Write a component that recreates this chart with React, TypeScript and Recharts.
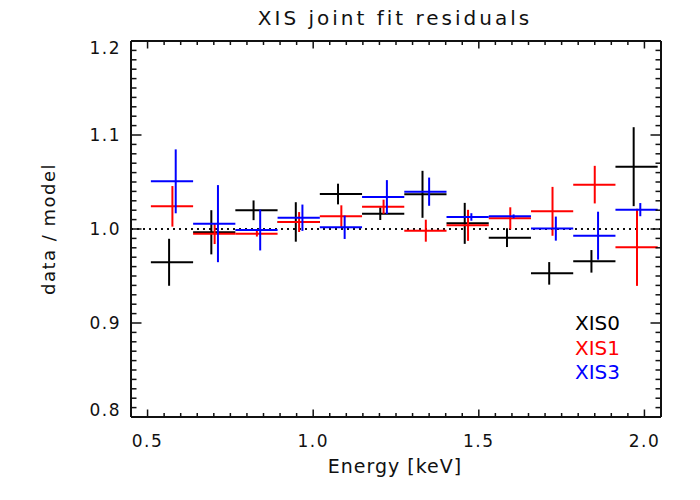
import React from 'react'
import {
  ScatterChart,
  Scatter,
  XAxis,
  YAxis,
  ErrorBar,
  ReferenceLine,
} from 'recharts'

// energy bins (keV), shared by the three detectors
const binLo = [0.51, 0.6375, 0.765, 0.8925, 1.02, 1.1475, 1.275, 1.4025, 1.53, 1.6575, 1.785, 1.9125]
const binHi = [0.6375, 0.765, 0.8925, 1.02, 1.1475, 1.275, 1.4025, 1.53, 1.6575, 1.785, 1.9125, 2.04]

const xis0E = [0.565, 0.6925, 0.82, 0.9475, 1.075, 1.2025, 1.33, 1.4575, 1.585, 1.7125, 1.84, 1.9675]
const xis0Ratio = [0.9646, 0.9965, 1.0199, 1.0075, 1.0372, 1.0163, 1.0369, 1.006, 0.9908, 0.9528, 0.9656, 1.0663]
const xis0Err = [0.025, 0.0235, 0.0105, 0.021, 0.011, 0.0067, 0.025, 0.0218, 0.01, 0.012, 0.012, 0.042]

const xis1E = [0.575, 0.7025, 0.83, 0.9575, 1.085, 1.2125, 1.34, 1.4675, 1.595, 1.7225, 1.85, 1.9775]
const xis1Ratio = [1.0241, 0.995, 0.995, 1.0074, 1.0135, 1.0237, 0.9982, 1.0039, 1.0114, 1.0188, 1.0472, 0.9805]
const xis1Err = [0.0216, 0.011, 0.003, 0.0106, 0.0117, 0.0075, 0.0117, 0.0165, 0.0117, 0.026, 0.02, 0.041]

const xis3E = [0.585, 0.7125, 0.84, 0.9675, 1.095, 1.2225, 1.35, 1.4775, 1.605, 1.7325, 1.86, 1.9875]
const xis3Ratio = [1.0507, 1.0057, 0.9989, 1.012, 1.0018, 1.034, 1.0397, 1.0128, 1.0135, 1.0004, 0.9929, 1.0206]
const xis3Err = [0.034, 0.041, 0.0217, 0.014, 0.0124, 0.018, 0.015, 0.004, 0.002, 0.0128, 0.0255, 0.007]

const xMajor = [0.5, 1.0, 1.5, 2.0]
const yMajor = [0.8, 0.9, 1.0, 1.1, 1.2]
const xLabels = ['0.5', '1.0', '1.5', '2.0']
const yLabels = ['0.8', '0.9', '1.0', '1.1', '1.2']

const xTicks: number[] = []
for (let i = 0; i <= 32; i++) xTicks.push(+(0.45 + i * 0.05).toFixed(3))
const yTicks: number[] = []
for (let i = 0; i <= 40; i++) yTicks.push(+(0.8 + i * 0.01).toFixed(3))

const FONT = '"DejaVu Sans", sans-serif'
const INK = '#111'

function buildSeries(energy: number[], ratio: number[], err: number[]) {
  return energy.map((x, i) => ({
    x,
    y: ratio[i],
    xerr: [x - binLo[i], binHi[i] - x],
    yerr: err[i],
  }))
}

const series = [
  { name: 'XIS0', color: '#000000', data: buildSeries(xis0E, xis0Ratio, xis0Err) },
  { name: 'XIS1', color: '#ff0000', data: buildSeries(xis1E, xis1Ratio, xis1Err) },
  { name: 'XIS3', color: '#0000ff', data: buildSeries(xis3E, xis3Ratio, xis3Err) },
]

const isMajor = (v: number, list: number[]) => list.some((m) => Math.abs(m - v) < 1e-6)

function BottomTick(props: any) {
  const { x, y, payload } = props
  const major = isMajor(payload.value, xMajor)
  const idx = xMajor.findIndex((m) => Math.abs(m - payload.value) < 1e-6)
  return (
    <g>
      <line x1={x} y1={y} x2={x} y2={y - (major ? 7.5 : 4)} stroke={INK} strokeWidth={1.5} />
      {major && (
        <text x={x} y={y + 30} textAnchor="middle" fontFamily={FONT} fontSize={17} fill={INK} letterSpacing={1.5}>
          {xLabels[idx]}
        </text>
      )}
    </g>
  )
}

function TopTick(props: any) {
  const { x, y, payload } = props
  const major = isMajor(payload.value, xMajor)
  return <line x1={x} y1={y} x2={x} y2={y + (major ? 7.5 : 4)} stroke={INK} strokeWidth={1.5} />
}

function LeftTick(props: any) {
  const { x, y, payload } = props
  const major = isMajor(payload.value, yMajor)
  const idx = yMajor.findIndex((m) => Math.abs(m - payload.value) < 1e-6)
  // end labels sit a little inside the box
  let ly = y
  if (idx === 0) ly = y - 7
  if (idx === yMajor.length - 1) ly = y + 7
  return (
    <g>
      <line x1={x} y1={y} x2={x + (major ? 10.5 : 5.5)} y2={y} stroke={INK} strokeWidth={1.5} />
      {major && (
        <text x={x - 10} y={ly + 6} textAnchor="end" fontFamily={FONT} fontSize={17} fill={INK} letterSpacing={1.5}>
          {yLabels[idx]}
        </text>
      )}
    </g>
  )
}

function RightTick(props: any) {
  const { x, y, payload } = props
  const major = isMajor(payload.value, yMajor)
  return <line x1={x} y1={y} x2={x - (major ? 10.5 : 5.5)} y2={y} stroke={INK} strokeWidth={1.5} />
}

const noDot = () => <g />

export default function App() {
  const axisLine = { stroke: INK, strokeWidth: 2 }
  return (
    <div style={{ position: 'absolute', left: 0, top: 0, width: 700, height: 500, background: '#fff' }}>
      <ScatterChart width={700} height={500} margin={{ top: 0, right: 0, bottom: 0, left: 0 }}>
        <XAxis
          xAxisId="b"
          type="number"
          dataKey="x"
          domain={[0.45, 2.05]}
          ticks={xTicks}
          interval={0}
          tickSize={0}
          tickMargin={0}
          height={83}
          tickLine={false}
          axisLine={axisLine}
          tick={(p: any) => <BottomTick {...p} />}
          allowDataOverflow
        />
        <XAxis
          xAxisId="t"
          orientation="top"
          type="number"
          dataKey="x"
          domain={[0.45, 2.05]}
          ticks={xTicks}
          interval={0}
          tickSize={0}
          tickMargin={0}
          height={41}
          tickLine={false}
          axisLine={axisLine}
          tick={(p: any) => <TopTick {...p} />}
          allowDataOverflow
        />
        <YAxis
          yAxisId="l"
          type="number"
          dataKey="y"
          domain={[0.8, 1.2]}
          ticks={yTicks}
          interval={0}
          tickSize={0}
          tickMargin={0}
          width={131}
          tickLine={false}
          axisLine={axisLine}
          tick={(p: any) => <LeftTick {...p} />}
          allowDataOverflow
        />
        <YAxis
          yAxisId="r"
          orientation="right"
          type="number"
          dataKey="y"
          domain={[0.8, 1.2]}
          ticks={yTicks}
          interval={0}
          tickSize={0}
          tickMargin={0}
          width={39}
          tickLine={false}
          axisLine={axisLine}
          tick={(p: any) => <RightTick {...p} />}
          allowDataOverflow
        />
        <ReferenceLine
          xAxisId="b"
          yAxisId="l"
          y={1.0}
          stroke={INK}
          strokeWidth={2}
          strokeDasharray="2 4"
        />
        {series.map((s) => (
          <Scatter
            key={s.name}
            name={s.name}
            data={s.data}
            xAxisId="b"
            yAxisId="l"
            shape={noDot}
            isAnimationActive={false}
          >
            <ErrorBar dataKey="xerr" direction="x" width={0} stroke={s.color} strokeWidth={2} isAnimationActive={false} />
            <ErrorBar dataKey="yerr" direction="y" width={0} stroke={s.color} strokeWidth={2} isAnimationActive={false} />
          </Scatter>
        ))}
      </ScatterChart>
      <svg
        width={700}
        height={500}
        style={{ position: 'absolute', left: 0, top: 0, pointerEvents: 'none' }}
      >
        <text x={395} y={25} textAnchor="middle" fontFamily={FONT} fontSize={20} fill={INK} letterSpacing={3}>
          XIS joint fit residuals
        </text>
        <text x={395} y={473} textAnchor="middle" fontFamily={FONT} fontSize={19} fill={INK} letterSpacing={1}>
          Energy [keV]
        </text>
        <text
          x={48}
          y={229}
          textAnchor="middle"
          dominantBaseline="central"
          transform="rotate(-90 48 229)"
          fontFamily={FONT}
          fontSize={18}
          fill={INK}
          letterSpacing={1.5}
        >
          data / model
        </text>
        {series.map((s, i) => (
          <text key={s.name} x={575} y={330 + i * 24.6} fontFamily={FONT} fontSize={20} fill={s.color}>
            {s.name}
          </text>
        ))}
      </svg>
    </div>
  )
}
